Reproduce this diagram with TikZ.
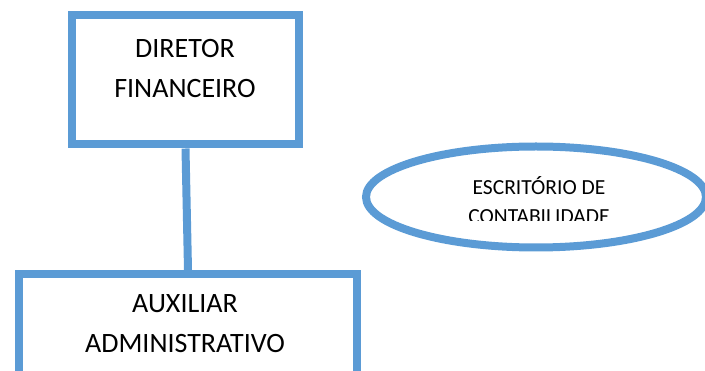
\documentclass[tikz,border=0pt]{standalone}
\usepackage{fontspec}
\setmainfont{Carlito}
\usetikzlibrary{shapes.geometric}
\definecolor{obl}{HTML}{5B9BD5}
\tikzset{
  bx/.style={draw=obl, line width=8pt, fill=white, rectangle, inner sep=0pt},
  ell/.style={draw=obl, line width=8pt, fill=white, ellipse, inner sep=0pt},
  big/.style={font=\fontsize{28}{40}\selectfont, anchor=base, inner sep=0pt},
  small/.style={font=\fontsize{21.5}{29}\selectfont, anchor=base, inner sep=0pt},
  conn/.style={draw=obl, line width=8pt}
}
\begin{document}
\begin{tikzpicture}[x=1pt,y=-1pt]
\useasboundingbox (0,0) rectangle (705,371);
\clip (0,0) rectangle (705,371);
% boxes
\node[bx, minimum width=227pt, minimum height=129pt] (dir) at (185.5,80) {};
\node[bx, minimum width=338.5pt, minimum height=150pt] (aux) at (188,349) {};
\draw[conn] (dir.south) -- (aux.north);
\node[big] (t1) at (185,58) {DIRETOR};
\node[big] (t2) at (185,98) {FINANCEIRO};
\node[big] (t3) at (185,313) {AUXILIAR};
\node[big] (t4) at (185,353) {ADMINISTRATIVO};
% ellipse
\node[ell, minimum width=340pt, minimum height=101pt] (esc) at (536,197) {};
\begin{scope}
\clip (380,150) rectangle (690,221);
\node[small] (e1) at (539,195) {ESCRITÓRIO DE};
\node[small] (e2) at (539,224) {CONTABILIDADE};
\end{scope}
\end{tikzpicture}
\end{document}
